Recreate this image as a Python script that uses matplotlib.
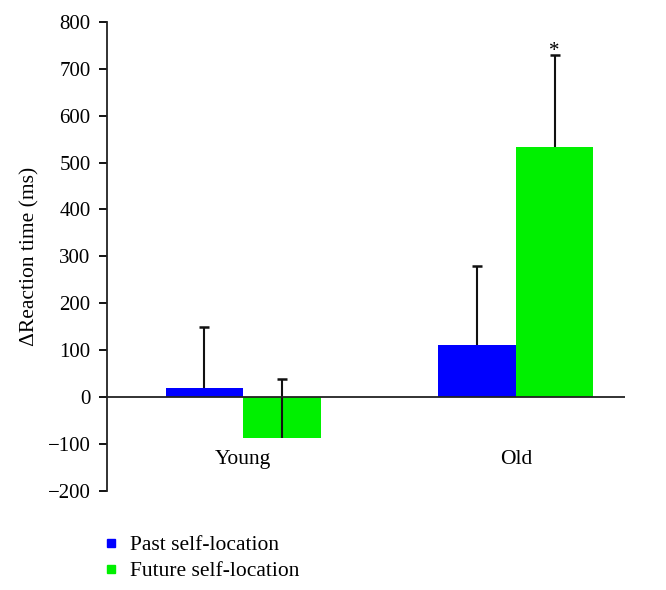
import matplotlib
matplotlib.use("Agg")
import matplotlib.pyplot as plt
import numpy as np
from matplotlib.lines import Line2D

groups = ["Young", "Old"]
series = ["Past self-location", "Future self-location"]
past = [20, 110]
past_err = [130, 170]
future = [-88, 533]
future_err = [126, 197]
colors = ["#0000ff", "#00f000"]

plt.rcParams["font.family"] = ["Liberation Serif", "DejaVu Serif"]
fig = plt.figure(figsize=(6.66, 5.9), dpi=100)
ax = fig.add_axes([0.161, 0.168, 0.777, 0.795])

x = np.array([0.0, 1.0])
w = 0.284
for vals, errs, off, c in [(past, past_err, -w / 2, colors[0]), (future, future_err, w / 2, colors[1])]:
    vals = np.array(vals)
    errs = np.array(errs)
    ax.bar(x + off, vals, width=w, color=c, zorder=2)
    ax.vlines(x + off, vals, vals + errs, color="#111111", lw=1.5, zorder=3)
    ax.plot(x + off, vals + errs, linestyle="none", marker="_", markersize=7,
            markeredgewidth=1.8, color="#111111", zorder=3)

ax.axhline(0, color="#222222", lw=1.3, zorder=4)
ax.text(x[1] + w / 2, future[1] + future_err[1] - 14, "*", ha="center", va="bottom", fontsize=15)

for xi, g in zip(x, groups):
    ax.text(xi, -112, g, ha="center", va="top", fontsize=15.5)

ax.set_xlim(-0.498, 1.399)
ax.set_ylim(-200, 800)
ax.set_yticks(np.arange(-200, 801, 100))
ax.set_yticklabels([str(v).replace("-", "\u2212") for v in range(-200, 801, 100)])
ax.set_xticks([])
for s in ["top", "right", "bottom"]:
    ax.spines[s].set_visible(False)
ax.spines["left"].set_linewidth(1.3)
ax.spines["left"].set_color("#222222")
ax.tick_params(axis="y", direction="out", length=6, width=1.3, labelsize=15, pad=6)
ax.set_ylabel("\u0394Reaction time (ms)", fontsize=15.5, labelpad=6)

handles = [Line2D([], [], marker="s", color="none", markerfacecolor=c, markeredgecolor=c, markersize=6) for c in colors]
fig.legend(handles, series, loc="upper left", bbox_to_anchor=(0.139, 0.111), frameon=False,
           fontsize=15.5, handlelength=0.7, handletextpad=0.55, labelspacing=0.28, borderpad=0)

fig.savefig("out.png", dpi=100)
